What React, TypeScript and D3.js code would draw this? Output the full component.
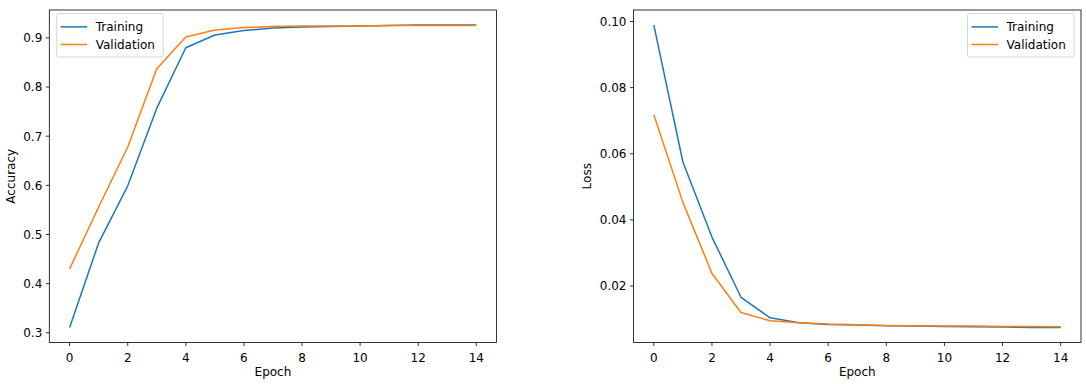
import * as d3 from 'd3';

const epochs = [0, 1, 2, 3, 4, 5, 6, 7, 8, 9, 10, 11, 12, 13, 14];

const accTraining = [0.311, 0.483, 0.599, 0.757, 0.880, 0.906, 0.915, 0.920, 0.922, 0.923, 0.924, 0.925, 0.926, 0.926, 0.926];
const accValidation = [0.430, 0.556, 0.678, 0.837, 0.902, 0.916, 0.921, 0.923, 0.924, 0.924, 0.924, 0.925, 0.925, 0.925, 0.925];

const lossTraining = [0.0989, 0.0575, 0.0348, 0.0166, 0.0104, 0.0089, 0.0084, 0.0082, 0.0080, 0.0079, 0.0078, 0.0077, 0.0076, 0.0075, 0.0075];
const lossValidation = [0.0718, 0.0453, 0.0238, 0.0120, 0.0095, 0.0089, 0.0085, 0.0083, 0.0081, 0.0080, 0.0079, 0.0079, 0.0078, 0.0078, 0.0077];

const xTicks = [0, 2, 4, 6, 8, 10, 12, 14];
const accTicks = [0.3, 0.4, 0.5, 0.6, 0.7, 0.8, 0.9];
const lossTicks = [0.02, 0.04, 0.06, 0.08, 0.10];

const BLUE = '#1f77b4';
const ORANGE = '#ff7f0e';
const FONT = 'DejaVu Sans, sans-serif';
const FS = 12;

// matplotlib-like 5% margins around the data
function padded(values: number[]): [number, number] {
  const [lo, hi] = d3.extent(values) as [number, number];
  const m = (hi - lo) * 0.05;
  return [lo - m, hi + m];
}

type PanelProps = {
  left: number; right: number; top: number; bottom: number;
  train: number[]; valid: number[];
  yTicks: number[]; yFmt: (v: number) => string;
  yLabel: string; yLabelX: number;
  legendRight: boolean;
};

function Panel({ left, right, top, bottom, train, valid, yTicks, yFmt, yLabel, yLabelX, legendRight }: PanelProps) {
  const x = d3.scaleLinear().domain(padded(epochs)).range([left, right]);
  const y = d3.scaleLinear().domain(padded([...train, ...valid])).range([bottom, top]);
  const line = d3.line<number>().x((_, i) => x(epochs[i])).y(d => y(d));

  const legW = 106.5;
  const legX = legendRight ? right - 7 - legW : left + 7.4;
  const legY = top + 3.5;

  return (
    <g>
      <path d={line(train) || ''} fill="none" stroke={BLUE} strokeWidth={1.5} strokeLinejoin="round" />
      <path d={line(valid) || ''} fill="none" stroke={ORANGE} strokeWidth={1.5} strokeLinejoin="round" />

      <rect x={left} y={top} width={right - left} height={bottom - top} fill="none" stroke="#000" strokeWidth={0.8} />

      {xTicks.map(t => (
        <g key={'x' + t}>
          <line x1={x(t)} x2={x(t)} y1={bottom} y2={bottom + 3.5} stroke="#000" strokeWidth={0.8} />
          <text x={x(t)} y={bottom + 19} textAnchor="middle" fontSize={FS} fontFamily={FONT} fill="#000">{t}</text>
        </g>
      ))}
      {yTicks.map(t => (
        <g key={'y' + t}>
          <line x1={left - 3.5} x2={left} y1={y(t)} y2={y(t)} stroke="#000" strokeWidth={0.8} />
          <text x={left - 7} y={y(t) + 4.4} textAnchor="end" fontSize={FS} fontFamily={FONT} fill="#000">{yFmt(t)}</text>
        </g>
      ))}

      <text x={(left + right) / 2} y={bottom + 33.5} textAnchor="middle" fontSize={FS} fontFamily={FONT} fill="#000">Epoch</text>
      <text transform={`translate(${yLabelX},${(top + bottom) / 2}) rotate(-90)`} textAnchor="middle"
        fontSize={FS} fontFamily={FONT} fill="#000">{yLabel}</text>

      <g transform={`translate(${legX},${legY})`}>
        <rect x={0} y={0} width={legW} height={43.5} rx={2} fill="#fff" fillOpacity={0.8}
          stroke="#cccccc" strokeWidth={0.8} />
        {[['Training', BLUE], ['Validation', ORANGE]].map(([name, c], i) => (
          <g key={name} transform={`translate(0,${13.4 + i * 17.6})`}>
            <line x1={4} x2={30.5} y1={0} y2={0} stroke={c} strokeWidth={1.5} />
            <text x={39} y={4.4} fontSize={FS} fontFamily={FONT} fill="#000">{name}</text>
          </g>
        ))}
      </g>
    </g>
  );
}

export default function App() {
  return (
    <div style={{ position: 'fixed', left: 0, top: 0 }}>
      <svg width={1086} height={384} style={{ display: 'block', background: '#fff' }}>
        <Panel left={49.3} right={496.6} top={10} bottom={342.5}
          train={accTraining} valid={accValidation}
          yTicks={accTicks} yFmt={d3.format('.1f')} yLabel="Accuracy" yLabelX={14.5} legendRight={false} />
        <Panel left={633.5} right={1081} top={10} bottom={342.5}
          train={lossTraining} valid={lossValidation}
          yTicks={lossTicks} yFmt={d3.format('.2f')} yLabel="Loss" yLabelX={590.5} legendRight={true} />
      </svg>
    </div>
  );
}
